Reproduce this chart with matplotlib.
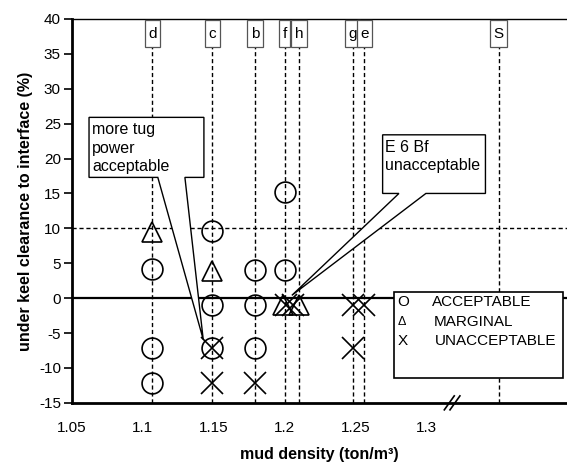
import numpy as np
import matplotlib
matplotlib.use('Agg')
import matplotlib.pyplot as plt
from matplotlib.patches import Polygon, Rectangle
from matplotlib.path import Path

plt.rcParams['font.family'] = ['Liberation Sans', 'DejaVu Sans']
plt.rcParams['axes.unicode_minus'] = False

# reference lines (mud types) at the top
ref_names = ['d', 'c', 'b', 'f', 'h', 'g', 'e', 'S']
ref_x = [1.1065, 1.149, 1.179, 1.200, 1.210, 1.248, 1.256, 1.351]

# test results
acc_x = [1.1065, 1.1065, 1.1065, 1.149, 1.149, 1.149, 1.179, 1.179, 1.179, 1.200, 1.200]
acc_y = [4.2, -7.1, -12.2, 9.6, -1.0, -7.1, 4.0, -1.0, -7.1, 15.2, 4.0]

mar_x = [1.1065, 1.149, 1.199, 1.210]
mar_y = [9.5, 3.9, -1.0, -1.0]

una_x = [1.149, 1.149, 1.179, 1.201, 1.206, 1.248, 1.256, 1.248]
una_y = [-7.1, -12.2, -12.2, -1.0, -1.0, -1.0, -1.0, -7.2]

xticks = [1.05, 1.1, 1.15, 1.2, 1.25, 1.3]
xtick_labels = ['1.05', '1.1', '1.15', '1.2', '1.25', '1.3']
yticks = [-15, -10, -5, 0, 5, 10, 15, 20, 25, 30, 35, 40]


def tall_box(x0, y0, width, height, mutation_size):
    # rectangle with less horizontal than vertical padding
    px = 0.22 * mutation_size
    py = 0.42 * mutation_size
    x0, x1 = x0 - px, x0 + width + px
    y0, y1 = y0 - py, y0 + height + py
    return Path([(x0, y0), (x1, y0), (x1, y1), (x0, y1), (x0, y0)], closed=True)


fig = plt.figure(figsize=(5.67, 4.62), dpi=100)
ax = fig.add_axes([0.127, 0.128, 0.873, 0.831])
ax.set_xlim(1.05, 1.399)
ax.set_ylim(-15, 40)

# guide lines
for x in ref_x:
    ax.plot([x, x], [-15, 40], color='black', lw=1, ls=(0, (3, 2)), zorder=1)
ax.axhline(10, color='black', lw=1, ls=(0, (3, 2)), zorder=1)
ax.axhline(0, color='black', lw=1.6, zorder=1)

for name, x in zip(ref_names, ref_x):
    ax.text(x, 37.9, name, ha='center', va='center', fontsize=11, zorder=4,
            bbox=dict(boxstyle=tall_box, fc='white', ec='#555555', lw=0.9))

# callouts
call1 = [(1.062, 25.9), (1.143, 25.9), (1.143, 17.3), (1.1296, 17.3),
         (1.1425, -5.9), (1.1105, 17.3), (1.062, 17.3)]
ax.add_patch(Polygon(call1, closed=True, fc='white', ec='black', lw=1, zorder=3))
ax.text(1.0642, 25.2, 'more tug\npower\nacceptable', ha='left', va='top',
        fontsize=11.5, linespacing=1.3, zorder=5)

call2 = [(1.269, 23.4), (1.3415, 23.4), (1.3415, 15.0), (1.2995, 15.0),
         (1.205, 0.4), (1.2805, 15.0), (1.269, 15.0)]
ax.add_patch(Polygon(call2, closed=True, fc='white', ec='black', lw=1, zorder=3))
ax.text(1.2705, 22.7, 'E 6 Bf\nunacceptable', ha='left', va='top',
        fontsize=11.5, linespacing=1.3, zorder=5)

# markers
ax.plot(acc_x, acc_y, 'o', ms=15, mfc='none', mec='black', mew=1.2, zorder=6)
ax.plot(mar_x, mar_y, '^', ms=14.5, mfc='none', mec='black', mew=1.2, zorder=6)
ax.plot(una_x, una_y, 'x', ms=16, mec='black', mew=1.2, zorder=6)

# legend box
ax.add_patch(Rectangle((0.650, 0.065), 0.342, 0.224, transform=ax.transAxes,
                       fc='white', ec='black', lw=1.2, zorder=7))
leg_sym = ['O', '\u0394', 'X']
leg_txt = ['ACCEPTABLE', 'MARGINAL', 'UNACCEPTABLE']
leg_y = [0.262, 0.210, 0.160]
leg_tx = [0.727, 0.731, 0.733]
for s, t, y, tx in zip(leg_sym, leg_txt, leg_y, leg_tx):
    ax.text(0.657, y, s, transform=ax.transAxes, ha='left', va='center',
            fontsize=11 if s != '\u0394' else 9, zorder=8)
    ax.text(tx, y, t, transform=ax.transAxes, ha='left', va='center',
            fontsize=11, zorder=8)

# axis break mark
for dx in [0.0, 0.004]:
    ax.plot([1.3125 + dx, 1.3195 + dx], [-16.0, -14.0], color='black', lw=1.2,
            clip_on=False, zorder=9)

ax.set_xticks(xticks)
ax.set_xticklabels(xtick_labels)
ax.set_yticks(yticks)
ax.tick_params(axis='x', length=0, labelsize=11, pad=13)
ax.tick_params(axis='y', length=6, width=1.2, direction='out', labelsize=11, pad=2)

ax.spines['right'].set_visible(False)
ax.spines['top'].set_linewidth(1)
ax.spines['left'].set_linewidth(2)
ax.spines['bottom'].set_linewidth(2)

ax.set_xlabel('mud density (ton/m\u00b3)', fontsize=11.5, fontweight='bold', labelpad=9)
ax.set_ylabel('under keel clearance to interface (%)', fontsize=11.5, fontweight='bold', labelpad=4)

fig.savefig('out.png', dpi=100)
